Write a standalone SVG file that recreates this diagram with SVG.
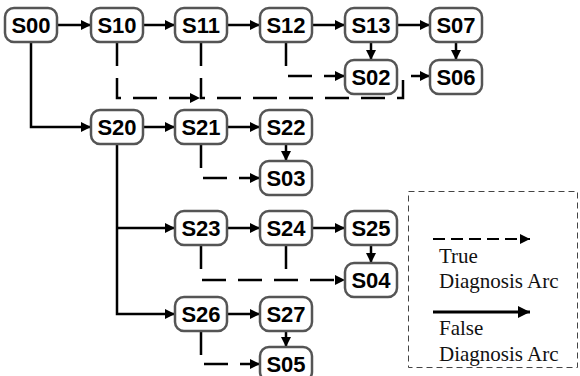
<svg xmlns="http://www.w3.org/2000/svg" width="580" height="376" viewBox="0 0 580 376">
<style>
.n rect{fill:#fff;stroke:#555;stroke-width:2.5}
.n text{font-family:"Liberation Sans",Arial,sans-serif;font-weight:bold;font-size:22px;text-anchor:middle;fill:#000}
.s{fill:none;stroke:#000;stroke-width:2.5}
.d{fill:none;stroke:#000;stroke-width:2.5;stroke-dasharray:24,12}
.lg{font-family:"Liberation Serif","Times New Roman",serif;font-size:21px;fill:#111}
</style>
<defs>
<marker id="ah" markerWidth="11" markerHeight="11" refX="10" refY="5" orient="auto" markerUnits="userSpaceOnUse"><path d="M0,0 L10,5 L0,10 z" fill="#000"/></marker>
<marker id="ahl" markerWidth="13" markerHeight="13" refX="12" refY="6" orient="auto" markerUnits="userSpaceOnUse"><path d="M0,0 L12,6 L0,12 z" fill="#000"/></marker>
</defs>
<g id="connectors">
<path class="s" d="M57,25 H91" marker-end="url(#ah)"/>
<path class="s" d="M143,25 H175" marker-end="url(#ah)"/>
<path class="s" d="M227,25 H260" marker-end="url(#ah)"/>
<path class="s" d="M312,25 H345" marker-end="url(#ah)"/>
<path class="s" d="M397,25 H430" marker-end="url(#ah)"/>
<path class="s" d="M371,42 V60" marker-end="url(#ah)"/>
<path class="s" d="M456,42 V60" marker-end="url(#ah)"/>
<path class="s" d="M31,42 V127 H91" marker-end="url(#ah)"/>
<path class="s" d="M143,127 H175" marker-end="url(#ah)"/>
<path class="s" d="M227,127 H260" marker-end="url(#ah)"/>
<path class="s" d="M286,144 V161" marker-end="url(#ah)"/>
<path class="s" d="M117,144 V314 H175" marker-end="url(#ah)"/>
<path class="s" d="M117,228 H175" marker-end="url(#ah)"/>
<path class="s" d="M227,228 H260" marker-end="url(#ah)"/>
<path class="s" d="M312,228 H345" marker-end="url(#ah)"/>
<path class="s" d="M371,245 V263" marker-end="url(#ah)"/>
<path class="s" d="M227,314 H260" marker-end="url(#ah)"/>
<path class="s" d="M286,331 V347" marker-end="url(#ah)"/>
<path class="d" d="M117,42 V98 H200" marker-end="url(#ah)"/>
<path class="d" d="M201,42 V98 H403 V76 H430" marker-end="url(#ah)"/>
<path class="d" d="M286,42 V76 H345" marker-end="url(#ah)"/>
<path class="d" d="M201,144 V178 H260" marker-end="url(#ah)"/>
<path class="d" d="M201,245 V280 H345" marker-end="url(#ah)"/>
<path class="d" d="M286,245 V280"/>
<path class="d" d="M201,331 V364 H260" marker-end="url(#ah)"/>
</g>
<g id="S00" class="n"><rect x="5" y="8" width="52" height="34" rx="9"/><text x="31" y="33">S00</text></g>
<g id="S10" class="n"><rect x="91" y="8" width="52" height="34" rx="9"/><text x="117" y="33">S10</text></g>
<g id="S11" class="n"><rect x="175" y="8" width="52" height="34" rx="9"/><text x="201" y="33">S11</text></g>
<g id="S12" class="n"><rect x="260" y="8" width="52" height="34" rx="9"/><text x="286" y="33">S12</text></g>
<g id="S13" class="n"><rect x="345" y="8" width="52" height="34" rx="9"/><text x="371" y="33">S13</text></g>
<g id="S07" class="n"><rect x="430" y="8" width="52" height="34" rx="9"/><text x="456" y="33">S07</text></g>
<g id="S02" class="n"><rect x="345" y="60" width="52" height="34" rx="9"/><text x="371" y="85">S02</text></g>
<g id="S06" class="n"><rect x="430" y="60" width="52" height="34" rx="9"/><text x="456" y="85">S06</text></g>
<g id="S20" class="n"><rect x="91" y="110" width="52" height="34" rx="9"/><text x="117" y="135">S20</text></g>
<g id="S21" class="n"><rect x="175" y="110" width="52" height="34" rx="9"/><text x="201" y="135">S21</text></g>
<g id="S22" class="n"><rect x="260" y="110" width="52" height="34" rx="9"/><text x="286" y="135">S22</text></g>
<g id="S03" class="n"><rect x="260" y="161" width="52" height="34" rx="9"/><text x="286" y="186">S03</text></g>
<g id="S23" class="n"><rect x="175" y="211" width="52" height="34" rx="9"/><text x="201" y="236">S23</text></g>
<g id="S24" class="n"><rect x="260" y="211" width="52" height="34" rx="9"/><text x="286" y="236">S24</text></g>
<g id="S25" class="n"><rect x="345" y="211" width="52" height="34" rx="9"/><text x="371" y="236">S25</text></g>
<g id="S04" class="n"><rect x="345" y="263" width="52" height="34" rx="9"/><text x="371" y="288">S04</text></g>
<g id="S26" class="n"><rect x="175" y="297" width="52" height="34" rx="9"/><text x="201" y="322">S26</text></g>
<g id="S27" class="n"><rect x="260" y="297" width="52" height="34" rx="9"/><text x="286" y="322">S27</text></g>
<g id="S05" class="n"><rect x="260" y="347" width="52" height="34" rx="9"/><text x="286" y="372">S05</text></g>
<g id="legend">
<rect x="408.5" y="191.5" width="169" height="176" fill="none" stroke="#444" stroke-width="1" stroke-dasharray="6,4"/>
<path d="M433,239 H530" fill="none" stroke="#000" stroke-width="2" stroke-dasharray="12,6" marker-end="url(#ah)"/>
<text class="lg" x="439" y="263">True</text>
<text class="lg" x="439" y="288">Diagnosis Arc</text>
<path d="M433,312 H530" fill="none" stroke="#000" stroke-width="3" marker-end="url(#ahl)"/>
<text class="lg" x="439" y="335">False</text>
<text class="lg" x="439" y="361">Diagnosis Arc</text>
</g>
</svg>
